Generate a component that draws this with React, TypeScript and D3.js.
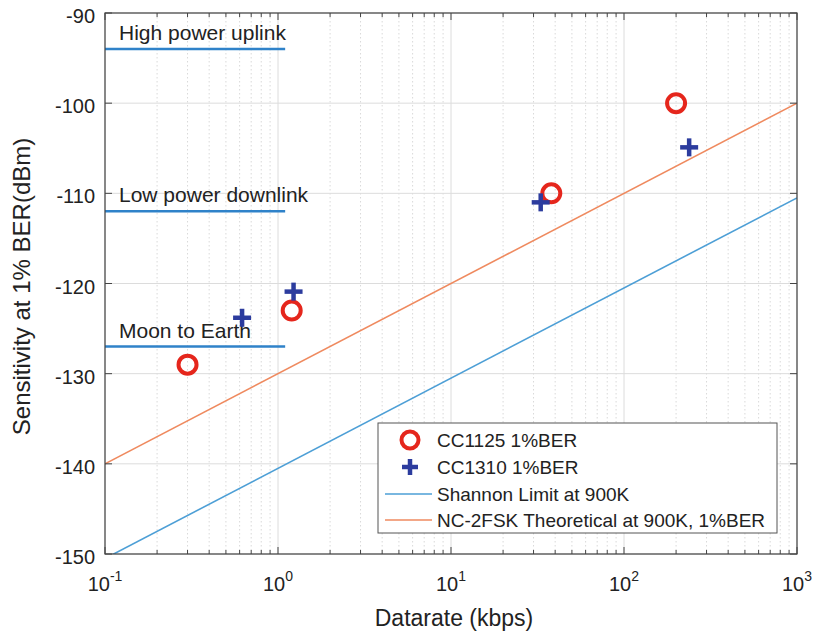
import React from "react";
import * as d3 from "d3";

const W = 815, H = 636;
const M = { left: 105, right: 797, top: 13, bottom: 554 };

const cc1125X = [0.3, 1.2, 38, 200];
const cc1125Y = [-129, -123, -110, -100];
const cc1310X = [0.62, 1.23, 33, 238];
const cc1310Y = [-123.8, -120.9, -111, -104.9];
const shannonX = [0.1, 1000];
const shannonY = [-150.5, -110.5];
const fskX = [0.1, 1000];
const fskY = [-140, -100];
const refLabels = ["High power uplink", "Low power downlink", "Moon to Earth"];
const refLevels = [-94, -112, -127];
const refXEnd = 1.1;
const yTicks = [-150, -140, -130, -120, -110, -100, -90];
const xExps = [-1, 0, 1, 2, 3];
const legendLabels = ["CC1125 1%BER", "CC1310 1%BER", "Shannon Limit at 900K", "NC-2FSK Theoretical at 900K, 1%BER"];

const FONT = "'Liberation Sans', Arial, Helvetica, sans-serif";

export default function App() {
  const x = d3.scaleLog().domain([0.1, 1000]).range([M.left, M.right]);
  const y = d3.scaleLinear().domain([-150, -90]).range([M.bottom, M.top]);
  const minors: number[] = [];
  for (let e = -1; e < 3; e++) for (let k = 2; k <= 9; k++) minors.push(k * Math.pow(10, e));
  const line = d3.line<[number, number]>().x(d => x(d[0])).y(d => y(d[1]));
  const shannon = line(shannonX.map((v, i) => [v, shannonY[i]] as [number, number]));
  const fsk = line(fskX.map((v, i) => [v, fskY[i]] as [number, number]));
  const red = "#e5261c", blue = "#2c3c9e", lblue = "#4d9fd6", orange = "#ef8a5f", refc = "#2f82c9";
  const plus = (cx: number, cy: number, key: any, s = 9) => (
    <g key={key} stroke={blue} strokeWidth={4.5}>
      <line x1={cx - s} x2={cx + s} y1={cy} y2={cy} />
      <line x1={cx} x2={cx} y1={cy - s} y2={cy + s} />
    </g>
  );
  const lg = { x: 378, y: 423, w: 399, h: 110 };
  const rowY = [440, 467, 494, 520];
  return (
    <svg width={W} height={H} style={{ position: "absolute", left: 0, top: 0, background: "#fff" }} fontFamily={FONT}>
      <defs>
        <clipPath id="clip"><rect x={M.left} y={M.top} width={M.right - M.left} height={M.bottom - M.top} /></clipPath>
      </defs>
      {minors.map((v, i) => (
        <line key={"mg" + i} x1={x(v)} x2={x(v)} y1={M.top} y2={M.bottom} stroke="#d9d9d9" strokeWidth={1} strokeDasharray="1.5,2.5" />
      ))}
      {xExps.map(e => (
        <line key={"xg" + e} x1={x(Math.pow(10, e))} x2={x(Math.pow(10, e))} y1={M.top} y2={M.bottom} stroke="#dcdcdc" strokeWidth={1} />
      ))}
      {yTicks.map(t => (
        <line key={"yg" + t} x1={M.left} x2={M.right} y1={y(t)} y2={y(t)} stroke="#dcdcdc" strokeWidth={1} />
      ))}
      <g clipPath="url(#clip)">
        <path d={shannon || ""} fill="none" stroke={lblue} strokeWidth={1.6} />
        <path d={fsk || ""} fill="none" stroke={orange} strokeWidth={1.6} />
        {refLevels.map((lv, i) => (
          <line key={"ref" + i} x1={x(0.1)} x2={x(refXEnd)} y1={y(lv)} y2={y(lv)} stroke={refc} strokeWidth={2.5} />
        ))}
      </g>
      {refLabels.map((t, i) => (
        <text key={"rl" + i} x={x(0.1) + 14} y={y(refLevels[i]) - 9} fontSize={21} fill="#222">{t}</text>
      ))}
      {cc1125X.map((v, i) => (
        <circle key={"c" + i} cx={x(v)} cy={y(cc1125Y[i])} r={9} fill="none" stroke={red} strokeWidth={4} />
      ))}
      {cc1310X.map((v, i) => plus(x(v), y(cc1310Y[i]), "p" + i))}
      <rect x={M.left} y={M.top} width={M.right - M.left} height={M.bottom - M.top} fill="none" stroke="#444" strokeWidth={1.2} />
      {minors.map((v, i) => (
        <g key={"mt" + i} stroke="#444" strokeWidth={1}>
          <line x1={x(v)} x2={x(v)} y1={M.bottom} y2={M.bottom - 4} />
          <line x1={x(v)} x2={x(v)} y1={M.top} y2={M.top + 4} />
        </g>
      ))}
      {xExps.map(e => (
        <g key={"xt" + e}>
          <line x1={x(Math.pow(10, e))} x2={x(Math.pow(10, e))} y1={M.bottom} y2={M.bottom - 7} stroke="#444" />
          <line x1={x(Math.pow(10, e))} x2={x(Math.pow(10, e))} y1={M.top} y2={M.top + 7} stroke="#444" />
          <text x={x(Math.pow(10, e))} y={591} fontSize={20} textAnchor="middle" fill="#222">
            10<tspan dy={-10} fontSize={14}>{e}</tspan>
          </text>
        </g>
      ))}
      {yTicks.map(t => (
        <g key={"yt" + t}>
          <line x1={M.left} x2={M.left + 7} y1={y(t)} y2={y(t)} stroke="#444" />
          <line x1={M.right} x2={M.right - 7} y1={y(t)} y2={y(t)} stroke="#444" />
          <text x={M.left - 10} y={y(t) + 10} fontSize={20} textAnchor="end" fill="#222">{t}</text>
        </g>
      ))}
      <text x={454} y={626} fontSize={23} textAnchor="middle" fill="#222">Datarate (kbps)</text>
      <text transform={`translate(30, ${(M.top + M.bottom) / 2 + 3}) rotate(-90)`} fontSize={24} textAnchor="middle" fill="#222">Sensitivity at 1% BER(dBm)</text>
      <rect x={lg.x} y={lg.y} width={lg.w} height={lg.h} fill="#fff" stroke="#555" strokeWidth={1} />
      <circle cx={410} cy={rowY[0]} r={8.5} fill="none" stroke={red} strokeWidth={4} />
      {plus(410, rowY[1], "lp", 8)}
      <line x1={385} x2={432} y1={rowY[2]} y2={rowY[2]} stroke={lblue} strokeWidth={1.6} />
      <line x1={385} x2={432} y1={rowY[3]} y2={rowY[3]} stroke={orange} strokeWidth={1.6} />
      {legendLabels.map((t, i) => (
        <text key={"lg" + i} x={437} y={rowY[i] + 7} fontSize={19} fill="#222">{t}</text>
      ))}
    </svg>
  );
}
